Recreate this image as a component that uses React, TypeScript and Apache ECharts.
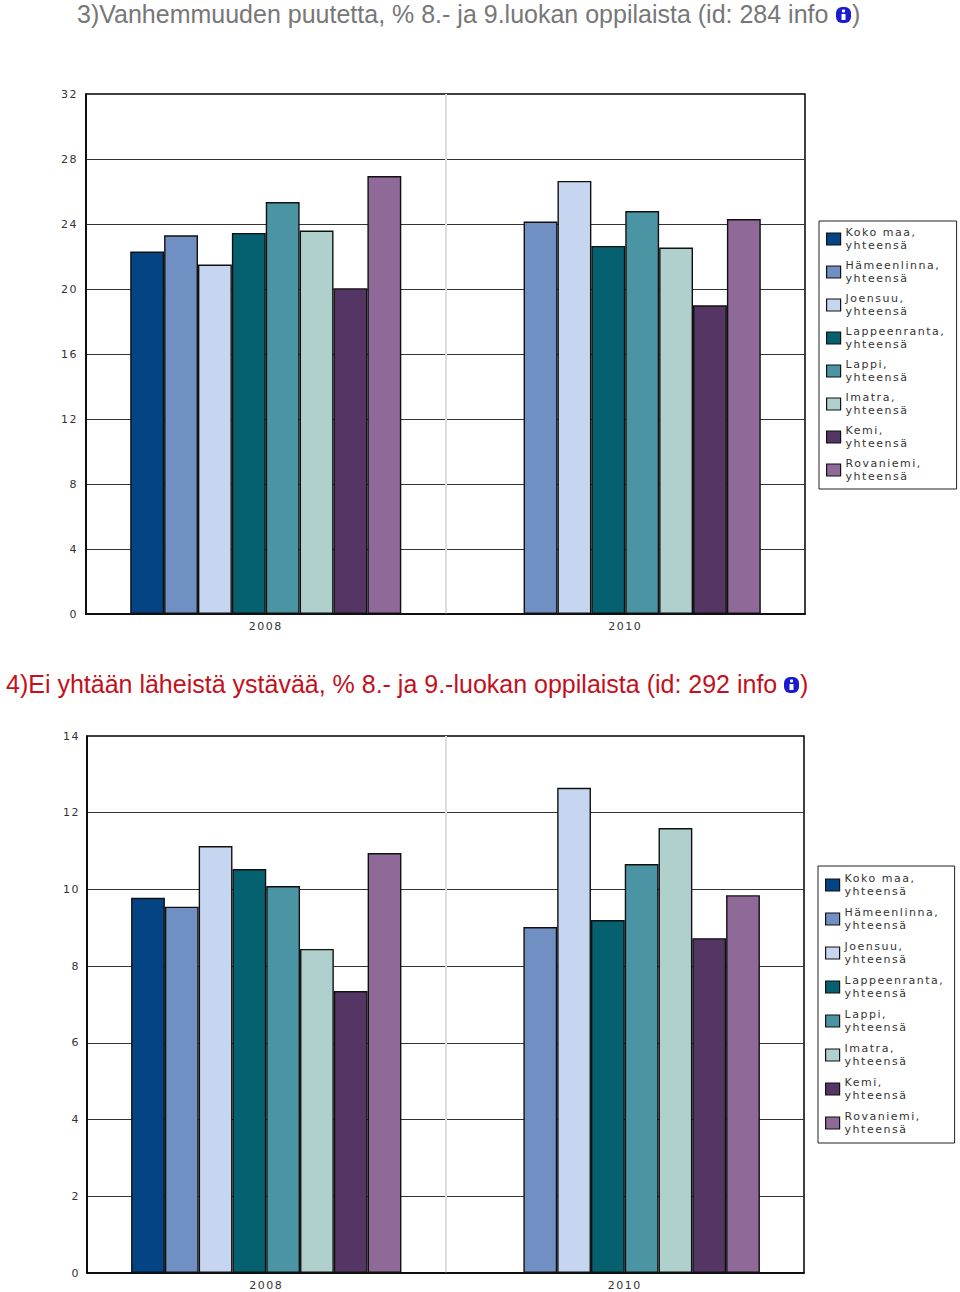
import React, { useEffect, useRef } from "react";
import * as echarts from "echarts";

const years = ["2008", "2010"];
const seriesNames = [
  "Koko maa,\nyhteensä",
  "Hämeenlinna,\nyhteensä",
  "Joensuu,\nyhteensä",
  "Lappeenranta,\nyhteensä",
  "Lappi,\nyhteensä",
  "Imatra,\nyhteensä",
  "Kemi,\nyhteensä",
  "Rovaniemi,\nyhteensä",
];
const colors = ["#044484", "#7090c4", "#c6d6f0", "#056070", "#4b94a4", "#b0d0ce", "#553564", "#8f6a98"];

// [2008, 2010] per series; Koko maa has no 2010 bar
const parenting: (number | null)[][] = [
  [22.3, null],
  [23.3, 24.15],
  [21.5, 26.65],
  [23.45, 22.65],
  [25.35, 24.8],
  [23.6, 22.55],
  [20.05, 19.0],
  [26.95, 24.3],
];
const noFriend: (number | null)[][] = [
  [9.78, null],
  [9.55, 9.02],
  [11.13, 12.65],
  [10.53, 9.2],
  [10.09, 10.66],
  [8.45, 11.6],
  [7.35, 8.73],
  [10.95, 9.85],
];

const title3 = "3)Vanhemmuuden puutetta, % 8.- ja 9.luokan oppilaista (id: 284 info";
const title4 = "4)Ei yhtään läheistä ystävää, % 8.- ja 9.-luokan oppilaista (id: 292 info";

const smallFont = "DejaVu Sans";

function axisPair(gridIndex: number, max: number, interval: number, labelMargin: number) {
  return {
    x: {
      type: "category",
      gridIndex,
      data: years,
      axisTick: { show: false },
      axisLine: { show: true, lineStyle: { color: "#000", width: 1.5 } },
      axisLabel: { fontFamily: smallFont, fontSize: 11, color: "#333", margin: 7, interval: 0 },
      splitLine: { show: true, interval: 0, showMinLine: false, showMaxLine: false, lineStyle: { color: "#dcdcdc", width: 2 } },
    },
    y: {
      type: "value",
      gridIndex,
      min: 0,
      max,
      interval,
      axisTick: { show: false },
      axisLine: { show: true, lineStyle: { color: "#000", width: 1.5 } },
      axisLabel: { fontFamily: smallFont, fontSize: 11, color: "#333", margin: labelMargin },
      splitLine: { show: true, showMinLine: false, showMaxLine: false, lineStyle: { color: "#333", width: 1 } },
    },
  };
}

function barSeries(values: (number | null)[][], axisIndex: number) {
  return values.map((data, i) => ({
    type: "bar",
    name: seriesNames[i],
    xAxisIndex: axisIndex,
    yAxisIndex: axisIndex,
    data,
    barGap: 0,
    barCategoryGap: "24.6%",
    itemStyle: { color: colors[i], borderColor: "#111", borderWidth: 1.4 },
    silent: true,
  }));
}

function legendAt(left: number, top: number, gap: number, pad: number[]) {
  return {
    orient: "vertical",
    left,
    top,
    data: seriesNames,
    icon: "rect",
    itemWidth: 14,
    itemHeight: 12,
    itemGap: gap,
    padding: pad,
    borderColor: "#222",
    borderWidth: 1,
    backgroundColor: "#fff",
    selectedMode: false,
    itemStyle: { borderColor: "#111", borderWidth: 1.2 },
    textStyle: {
      fontFamily: smallFont,
      fontSize: 11,
      color: "#333",
      lineHeight: 13,
      width: 101,
      overflow: "none",
    },
  };
}

function infoIcon(cx: number, cy: number) {
  return {
    type: "group",
    children: [
      { type: "rect", shape: { x: cx - 8, y: cy - 8, width: 15, height: 16, r: 6 }, style: { fill: "#1a1ad0" } },
      { type: "circle", shape: { cx: cx - 0.5, cy: cy - 4, r: 1.6 }, style: { fill: "#fff" } },
      { type: "rect", shape: { x: cx - 2.5, y: cy - 1, width: 4, height: 6 }, style: { fill: "#fff" } },
    ],
  };
}

export default function App() {
  const ref = useRef<HTMLDivElement>(null);
  useEffect(() => {
    const style = document.createElement("style");
    style.textContent = `svg text[style*="DejaVu"]{letter-spacing:1.5px}`;
    document.head.appendChild(style);
    const chart = echarts.init(ref.current!, undefined, { renderer: "svg" });
    const a = axisPair(0, 32, 4, 8);
    const b = axisPair(1, 14, 2, 7);
    chart.setOption({
      animation: false,
      backgroundColor: "#fff",
      title: [
        {
          text: title3,
          left: 77,
          top: 0,
          padding: 0,
          textStyle: { fontFamily: "Liberation Sans", fontSize: 25, fontWeight: "normal", color: "#777", lineHeight: 28 },
        },
        {
          text: title4,
          left: 6,
          top: 670,
          padding: 0,
          textStyle: { fontFamily: "Liberation Sans", fontSize: 25, fontWeight: "normal", color: "#c4101c", lineHeight: 28 },
        },
      ],
      grid: [
        { left: 86, top: 94, width: 719, height: 520, show: true, borderColor: "#000", borderWidth: 1.5, backgroundColor: "#fff" },
        { left: 87, top: 736, width: 717, height: 537, show: true, borderColor: "#000", borderWidth: 1.5, backgroundColor: "#fff" },
      ],
      xAxis: [a.x, b.x],
      yAxis: [a.y, b.y],
      legend: [legendAt(819, 221, 7, [5, 10, 6, 7]), legendAt(818, 866, 8, [6, 9, 7, 7])],
      series: [...barSeries(parenting, 0), ...barSeries(noFriend, 1)],
      graphic: [
        infoIcon(844, 15),
        { type: "text", x: 852, y: 1, style: { text: ")", font: "25px 'Liberation Sans'", fill: "#777" } },
        infoIcon(792, 685),
        { type: "text", x: 800, y: 671, style: { text: ")", font: "25px 'Liberation Sans'", fill: "#c4101c" } },
      ],
    });
    return () => {
      chart.dispose();
      style.remove();
    };
  }, []);
  return <div ref={ref} style={{ position: "absolute", left: 0, top: 0, width: 960, height: 1292 }} />;
}
